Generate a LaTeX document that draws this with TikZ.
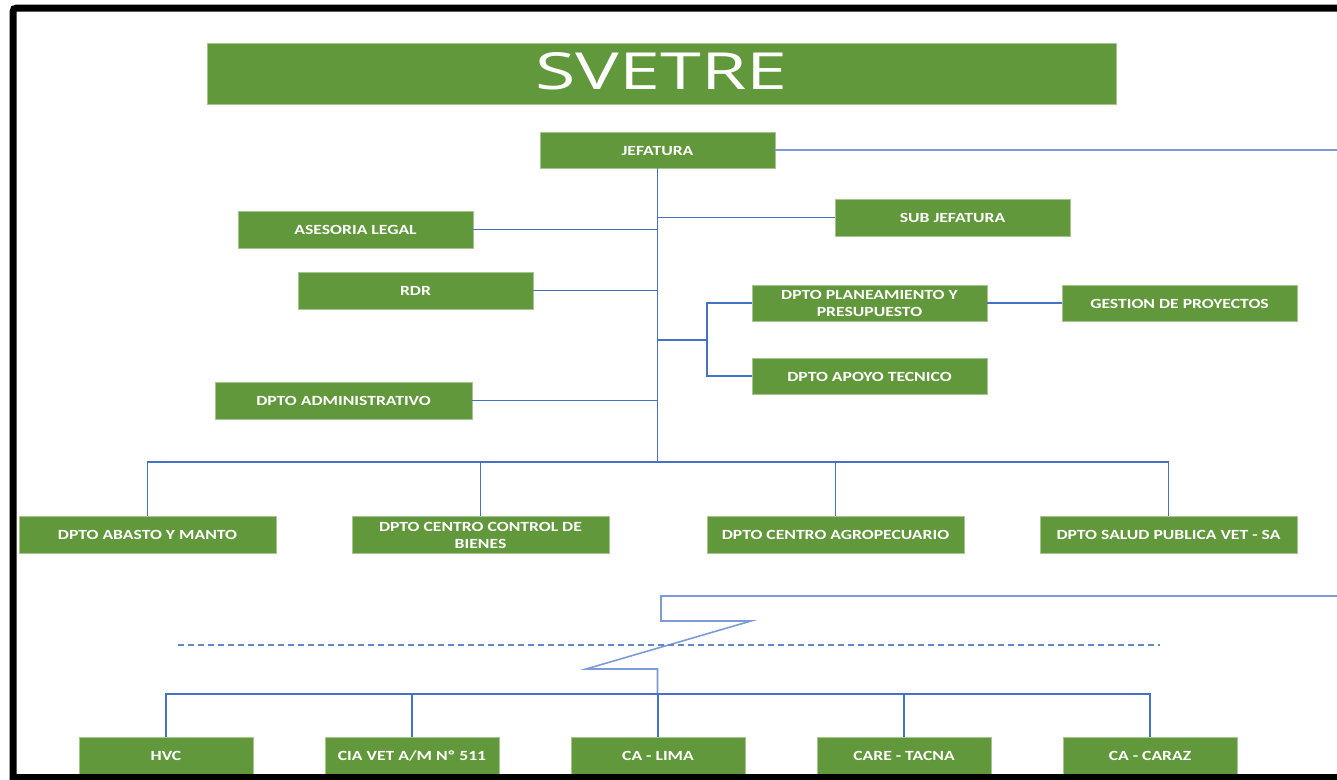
\documentclass[tikz,border=0pt]{standalone}
\usepackage{fontspec}
\setmainfont{Carlito}
\newfontfamily\titlefont{Open Sans}
\usepackage{graphicx}
\definecolor{boxgreen}{RGB}{98,152,60}
\definecolor{boxedge}{RGB}{165,198,145}
\definecolor{linkblue}{RGB}{68,114,196}
\definecolor{lightlink}{RGB}{125,155,214}
\definecolor{dashblue}{RGB}{100,135,200}
\newcommand{\boxtext}[1]{\raisebox{-2pt}[\height][\depth]{\scalebox{1.26}[1]{\begin{tabular}{@{}c@{}}#1\end{tabular}}}}
\begin{document}
\begin{tikzpicture}[x=1pt,y=-1pt,
  orgbox/.style={rectangle, fill=boxgreen, draw=boxedge, line width=0.8pt, inner sep=0pt,
    text=white, font=\fontsize{14}{17}\selectfont\bfseries, minimum height=37pt},
  widebox/.style={minimum width=235pt},
  widerbox/.style={minimum width=257pt},
  smallbox/.style={minimum width=174pt},
  link/.style={draw=linkblue, line width=1.3pt},
  farlink/.style={draw=lightlink, line width=1.6pt},
  dashline/.style={draw=dashblue, line width=1.5pt, dash pattern=on 6pt off 4pt}]
\useasboundingbox (0,0) rectangle (1337,779);
\fill[white] (0,0) rectangle (1337,779);

% title
\node[orgbox, minimum width=909pt, minimum height=61pt, font=\titlefont] (title) at (661.5,73.5)
  {\raisebox{2pt}[\height][\depth]{\resizebox{252pt}{37pt}{SVETRE}}};

% upper boxes
\node[orgbox, widebox, minimum height=36pt] (jef) at (657.5,150) {\boxtext{JEFATURA}};
\node[orgbox, widebox] (sub) at (952.5,217.5) {\boxtext{SUB JEFATURA}};
\node[orgbox, widebox] (ase) at (355.5,229.5) {\boxtext{ASESORIA LEGAL}};
\node[orgbox, widebox] (rdr) at (415.5,290.5) {\boxtext{RDR}};
\node[orgbox, widebox, minimum height=36pt] (plan) at (869.5,303) {\boxtext{DPTO PLANEAMIENTO Y\\PRESUPUESTO}};
\node[orgbox, widebox, minimum height=36pt] (apoyo) at (869.5,376) {\boxtext{DPTO APOYO TECNICO}};
\node[orgbox, widebox, minimum height=36pt] (gest) at (1179.5,303) {\boxtext{GESTION DE PROYECTOS}};
\node[orgbox, widerbox] (adm) at (343.5,400.5) {\boxtext{DPTO ADMINISTRATIVO}};

% department row
\node[orgbox, widerbox] (abasto) at (147.5,534.5) {\boxtext{DPTO ABASTO Y MANTO}};
\node[orgbox, widerbox] (ccb) at (480.5,534.5) {\boxtext{DPTO CENTRO CONTROL DE\\BIENES}};
\node[orgbox, widerbox] (agro) at (835.5,534.5) {\boxtext{DPTO CENTRO AGROPECUARIO}};
\node[orgbox, widerbox] (salud) at (1168.5,534.5) {\boxtext{DPTO SALUD PUBLICA VET - SA}};

% bottom row
\node[orgbox, smallbox] (hvc) at (166,755.5) {\boxtext{HVC}};
\node[orgbox, smallbox] (cia) at (412,755.5) {\boxtext{CIA VET A/M Nº 511}};
\node[orgbox, smallbox] (lima) at (658,755.5) {\boxtext{CA - LIMA}};
\node[orgbox, smallbox] (tacna) at (904,755.5) {\boxtext{CARE - TACNA}};
\node[orgbox, smallbox] (caraz) at (1150,755.5) {\boxtext{CA - CARAZ}};

% coordinates
\coordinate (busM) at (657.5,462);
\coordinate (brk) at (707,340);
\coordinate (jefR) at (1337,150);
\coordinate (offR) at (1337,596);
\coordinate (z1) at (661,596);
\coordinate (z2) at (661,621);
\coordinate (z3) at (751,621);
\coordinate (z4) at (586,669);
\coordinate (z5) at (657.5,669);
\coordinate (busB) at (657.5,694);
\coordinate (dashL) at (178,645);
\coordinate (dashR) at (1160,645);

% connectors
\draw[link] (jef.south) -- (busM);
\draw[farlink] (jef.east) -- (jefR);
\draw[link] (sub.west) -- (sub.west -| busM);
\draw[link] (ase.east) -- (ase.east -| busM);
\draw[link] (rdr.east) -- (rdr.east -| busM);
\draw[link] (adm.east) -- (adm.east -| busM);
\draw[link] (brk -| busM) -- (brk);
\draw[link] (plan.west) -- (plan.west -| brk) -- (apoyo.west -| brk) -- (apoyo.west);
\draw[link] (plan.east) -- (gest.west);
\draw[link] (abasto.north) -- (abasto.north |- busM) -- (salud.north |- busM) -- (salud.north);
\draw[link] (ccb.north) -- (ccb.north |- busM);
\draw[link] (agro.north) -- (agro.north |- busM);

\draw[farlink] (offR) -- (z1) -- (z2) -- (z3) -- (z4) -- (z5) -- (busB);
\draw[dashline] (dashL) -- (dashR);

\draw[link] (hvc.north) -- (hvc.north |- busB) -- (caraz.north |- busB) -- (caraz.north);
\draw[link] (cia.north) -- (cia.north |- busB);
\draw[link] (lima.north) -- (lima.north |- busB);
\draw[link] (tacna.north) -- (tacna.north |- busB);

% frame
\draw[line width=7pt, black] (1345,8) -- (21,8) .. controls (13,8) .. (13,16) -- (13,777.5) -- (1345,777.5);
\end{tikzpicture}
\end{document}
